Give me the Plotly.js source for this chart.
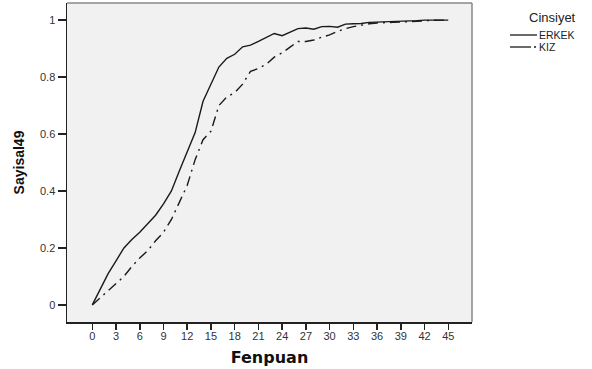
<!DOCTYPE html>
<html>
<head>
<meta charset="utf-8">
<script src="https://cdn.plot.ly/plotly-3.0.1.min.js"></script>
<style>html,body{margin:0;padding:0;background:#fff}#chart{width:592px;height:369px}</style>
</head>
<body>
<div id="chart"></div>
<script>
const fenpuan = [0,1,2,3,4,5,6,7,8,9,10,11,12,13,14,15,16,17,18,19,20,21,22,23,24,25,26,27,28,29,30,31,32,33,34,35,36,37,38,39,40,41,42,43,44,45];
const erkek = [0,0.055,0.11,0.155,0.2,0.23,0.255,0.285,0.315,0.355,0.4,0.47,0.54,0.605,0.715,0.775,0.835,0.866,0.88,0.906,0.912,0.925,0.94,0.953,0.945,0.957,0.97,0.972,0.968,0.977,0.978,0.975,0.986,0.987,0.988,0.992,0.993,0.992,0.995,0.996,0.996,0.998,1.0,0.999,1.0,1.0];
const kiz = [0,0.025,0.05,0.075,0.1,0.135,0.165,0.19,0.225,0.255,0.3,0.36,0.42,0.51,0.58,0.61,0.7,0.73,0.745,0.775,0.82,0.83,0.845,0.87,0.885,0.905,0.925,0.925,0.93,0.94,0.948,0.96,0.97,0.977,0.983,0.987,0.99,0.99,0.992,0.993,0.995,0.997,0.998,0.999,1.0,1.0];
const seriesNames = ['ERKEK','KIZ'];
const legendTitle = 'Cinsiyet';
const xTicks = [0,3,6,9,12,15,18,21,24,27,30,33,36,39,42,45];
const yTicks = [0,0.2,0.4,0.6,0.8,1];
const yTickText = ['0','0.2','0.4','0.6','0.8','1'];

const lineStyles = [
  {color: '#1a1a1a', width: 1.4},
  {color: '#1a1a1a', width: 1.4, dash: '10px,5px,2px,5px'}
];

const traces = [
  {x: fenpuan, y: erkek, name: seriesNames[0], mode: 'lines', line: lineStyles[0]},
  {x: fenpuan, y: kiz, name: seriesNames[1], mode: 'lines', line: lineStyles[1]}
];

// manual compact legend (paper coords: plot spans 67..472 px horizontally, 3..322 px vertically)
const pw = 405, ph = 319;
const px = v => (v - 67) / pw;
const py = v => (322 - v) / ph;
const legendShapes = [
  {type: 'line', xref: 'paper', yref: 'paper', x0: px(510), x1: px(537), y0: py(35), y1: py(35), line: {color: '#1a1a1a', width: 1.3}},
  {type: 'line', xref: 'paper', yref: 'paper', x0: px(510), x1: px(531), y0: py(47), y1: py(47), line: {color: '#1a1a1a', width: 1.3}},
  {type: 'line', xref: 'paper', yref: 'paper', x0: px(534), x1: px(536), y0: py(47), y1: py(47), line: {color: '#1a1a1a', width: 1.3}}
];
const legendAnn = [
  {xref: 'paper', yref: 'paper', x: px(552), y: py(17), text: legendTitle, showarrow: false, xanchor: 'center', yanchor: 'middle', font: {size: 13, color: '#222', family: 'Liberation Sans, Arial'}},
  {xref: 'paper', yref: 'paper', x: px(539), y: py(35), text: seriesNames[0], showarrow: false, xanchor: 'left', yanchor: 'middle', xshift: -2, font: {size: 10.5, color: '#222', family: 'Liberation Sans, Arial'}},
  {xref: 'paper', yref: 'paper', x: px(539), y: py(47), text: seriesNames[1], showarrow: false, xanchor: 'left', yanchor: 'middle', xshift: -2, font: {size: 10.5, color: '#222', family: 'Liberation Sans, Arial'}}
];

const layout = {
  width: 592, height: 369,
  margin: {l: 67, r: 120, t: 3, b: 47},
  paper_bgcolor: '#ffffff',
  plot_bgcolor: '#f0f1f0',
  showlegend: false,
  font: {family: 'Liberation Sans, Arial, sans-serif', color: '#333'},
  xaxis: {
    range: [-3.2, 48], tickvals: xTicks, ticktext: xTicks.map(String),
    ticks: 'outside', ticklen: 6, tickwidth: 1.5, tickcolor: '#222',
    ticklabelstandoff: -3,
    showgrid: false, zeroline: false,
    showline: true, linecolor: '#222', linewidth: 1.5,
    tickfont: {size: 11, color: '#333'},
    title: {text: 'Fenpuan', font: {size: 16, family: 'DejaVu Sans, Verdana', color: '#111', weight: 'bold'}, standoff: 11}
  },
  yaxis: {
    range: [-0.06, 1.06], tickvals: yTicks, ticktext: yTickText,
    ticks: 'outside', ticklen: 8, tickwidth: 1.5, tickcolor: '#222',
    showgrid: false, zeroline: false,
    showline: true, linecolor: '#222', linewidth: 1.5,
    tickfont: {size: 11, color: '#333'},
    title: {text: 'Sayisal49', font: {size: 14, family: 'Liberation Sans Narrow, Liberation Sans, Arial', color: '#111', weight: 'bold'}, standoff: 12}
  },
  shapes: [
    {type: 'line', xref: 'paper', yref: 'paper', x0: 0, x1: 1, y0: 1, y1: 1, line: {color: '#888', width: 1.5}},
    {type: 'line', xref: 'paper', yref: 'paper', x0: 1, x1: 1, y0: 0, y1: 1, line: {color: '#888', width: 1.5}}
  ].concat(legendShapes),
  annotations: legendAnn
};

Plotly.newPlot('chart', traces, layout, {displayModeBar: false, staticPlot: true});
</script>
</body>
</html>
